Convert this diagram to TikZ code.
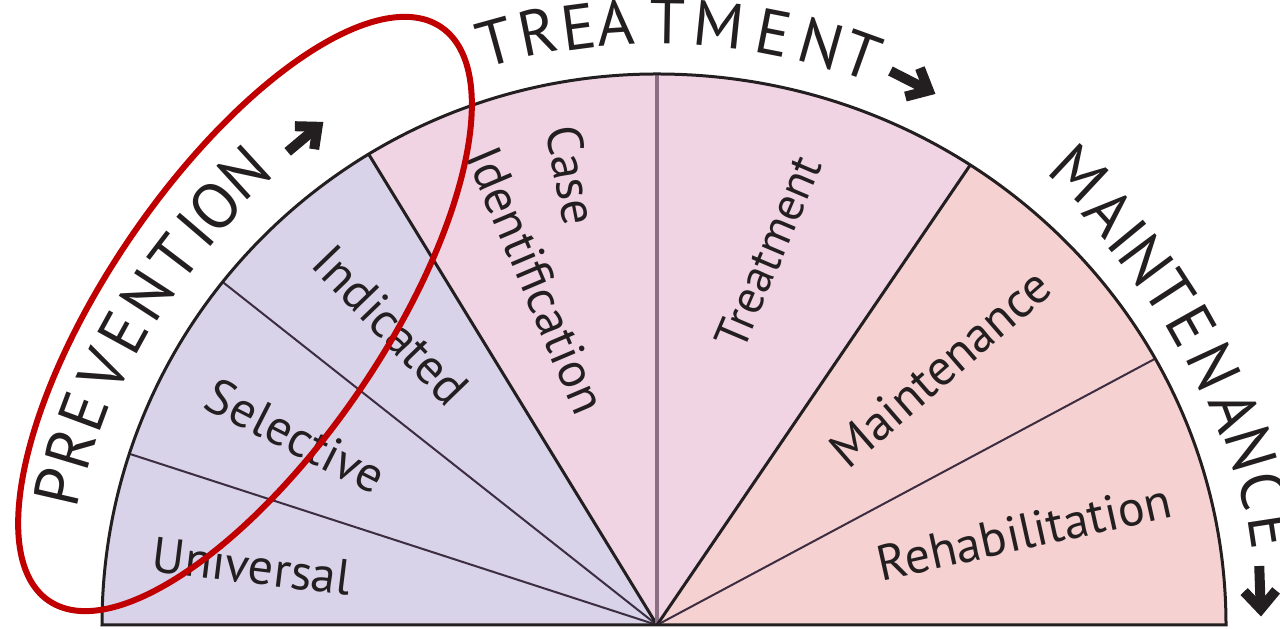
\documentclass[tikz,border=0pt]{standalone}
\usepackage{fontspec}
\setmainfont{PT Sans}
\definecolor{ink}{HTML}{231F20}
\definecolor{prevc}{RGB}{216,211,232}
\definecolor{casec}{RGB}{241,212,227}
\definecolor{maintc}{RGB}{246,209,209}
\definecolor{mauve}{RGB}{140,110,130}
\definecolor{ringred}{RGB}{192,0,0}
\definecolor{thinc}{RGB}{60,45,65}
\begin{document}
\begin{tikzpicture}[x=0.5pt,y=0.5pt,
  lbl/.style={font=\fontsize{25pt}{26pt}\selectfont, text=ink, inner sep=0pt},
  outer/.style={font=\fontsize{32pt}{33pt}\selectfont, text=ink, inner sep=0pt, text height=0.7em, text depth=0pt},
  bigline/.style={line width=1.5pt, draw=ink},
  thinline/.style={line width=1pt, draw=thinc},
  midline/.style={line width=2pt, draw=mauve},
  bigarrow/.style={line width=5pt, draw=ink, line join=miter, line cap=butt},
  ring/.style={line width=3pt, draw=ringred}]
\useasboundingbox (0,0) rectangle (1280,630);
\begin{scope}[shift={(657,5)}]
  \coordinate (c) at (0,0);
  % sectors
  \fill[prevc] (c) -- (180:555 and 551) arc[start angle=180, end angle=121.3, x radius=555, y radius=551] -- cycle;
  \fill[casec] (c) -- (121.3:555 and 551) arc[start angle=121.3, end angle=90, x radius=555, y radius=551] -- cycle;
  \fill[casec] (c) -- (90:569 and 551) arc[start angle=90, end angle=56.6, x radius=569, y radius=551] -- cycle;
  \fill[maintc] (c) -- (56.6:569 and 551) arc[start angle=56.6, end angle=0, x radius=569, y radius=551] -- cycle;
  % divider end points
  \coordinate (d1) at (161.9:555 and 551);
  \coordinate (d2) at (141.5:555 and 551);
  \coordinate (d3) at (121.3:555 and 551);
  \coordinate (d4) at (90:555 and 551);
  \coordinate (d5) at (56.6:569 and 551);
  \coordinate (d6) at (28.9:569 and 551);
  \draw[thinline] (c) -- (d1);
  \draw[thinline] (c) -- (d2);
  \draw[bigline] (c) -- (d3);
  \draw[midline] (c) -- (d4);
  \draw[bigline] (c) -- (d5);
  \draw[thinline] (c) -- (d6);
  % outline
  \draw[bigline] (180:555 and 551) arc[start angle=180, end angle=90, x radius=555, y radius=551]
     arc[start angle=90, end angle=0, x radius=569, y radius=551] -- cycle;
  % outer curved words
  \foreach \ch/\a/\r [count=\i] in {P/167.0/599, R/163.3/597, E/159.6/596, V/155.3/594, E/151.3/593, N/147.1/592, T/142.7/591, I/139.4/592, O/136.5/593, N/132.4/597}
    \node[outer, rotate=\a-90] (pv\i) at (\a:\r) {\ch};
  \foreach \ch/\a/\r [count=\i] in {T/105.45/589, R/101.4/590, E/97.5/588, A/93.9/588, T/89.0/588, M/84.1/588, E/78.9/588, N/74.2/589, T/70.2/590}
    \node[outer, rotate=\a-90] (tr\i) at (\a:\r) {\ch};
  \foreach \ch/\a/\r [count=\i] in {M/46.9/603, A/42.4/597, I/39.5/595, N/36.7/595, T/33.0/596, E/29.3/597, N/24.9/599, A/20.3/601, N/16.5/604, C/12.5/606, E/8.7/607}
    \node[outer, rotate=\a-90] (mt\i) at (\a:\r) {\ch};
\end{scope}
% arrows after the outer words
\begin{scope}[shift={(303,491)}, rotate=40]
  \draw[bigarrow] (-20,0) -- (18,0);
  \draw[bigarrow] (2,15) -- (19,0) -- (2,-15);
\end{scope}
\begin{scope}[shift={(910,549)}, rotate=-27]
  \draw[bigarrow] (-22,0) -- (20,0);
  \draw[bigarrow] (3,16) -- (21,0) -- (3,-16);
\end{scope}
\begin{scope}[shift={(1260,42)}, rotate=-88]
  \draw[bigarrow] (-22,0) -- (20,0);
  \draw[bigarrow] (3,16) -- (21,0) -- (3,-16);
\end{scope}
% inner labels
\node[lbl, rotate=-7] (uni) at (252,64) {Universal};
\node[lbl, rotate=-27] (sel) at (296,194) {Selective};
\node[lbl, rotate=-46] (ind) at (391,305) {Indicated};
\node[lbl, rotate=-79] (cas) at (572,455) {Case};
\node[lbl, rotate=-67] (ide) at (537,350) {Identification};
\node[lbl, rotate=67, font=\fontsize{23.5pt}{25pt}\selectfont] (tre) at (768,378) {Treatment};
\node[lbl, rotate=41] (mai) at (940,262) {Maintenance};
\node[lbl, rotate=12.5] (reh) at (1024,98) {Rehabilitation};
% highlight ring
\draw[ring, rotate around={55.6:(245,316)}] (245,316) ellipse [x radius=347.5, y radius=137.7];
\end{tikzpicture}
\end{document}
